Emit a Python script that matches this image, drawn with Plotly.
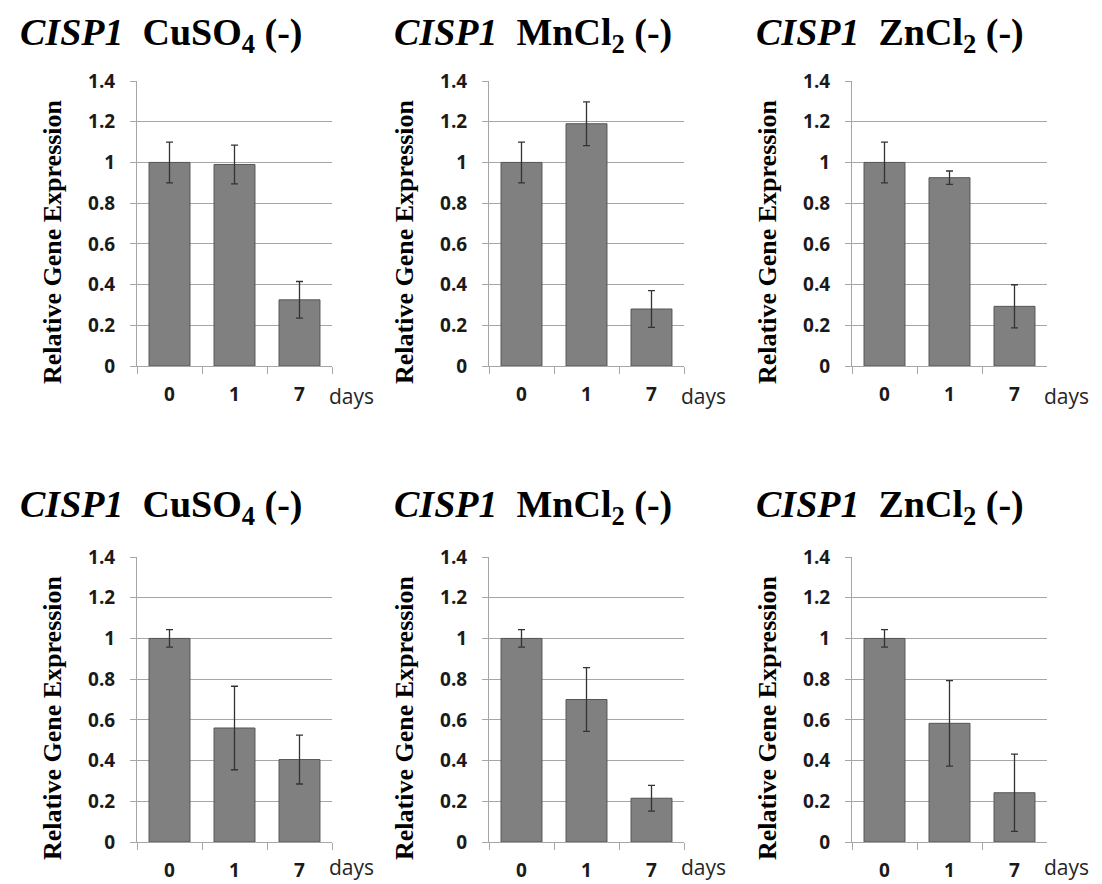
import plotly.graph_objects as go

days = ["0", "1", "7"]
y_ticks = [0, 0.2, 0.4, 0.6, 0.8, 1.0, 1.2, 1.4]
y_tick_labels = ["0", "0.2", "0.4", "0.6", "0.8", "1", "1.2", "1.4"]
y_title = "<b>Relative Gene Expression</b>"

titles = [
    "<b><i>CISP1</i></b>  <b>CuSO<sub>4</sub> (-)</b>",
    "<b><i>CISP1</i></b>  <b>MnCl<sub>2</sub> (-)</b>",
    "<b><i>CISP1</i></b>  <b>ZnCl<sub>2</sub> (-)</b>",
    "<b><i>CISP1</i></b>  <b>CuSO<sub>4</sub> (-)</b>",
    "<b><i>CISP1</i></b>  <b>MnCl<sub>2</sub> (-)</b>",
    "<b><i>CISP1</i></b>  <b>ZnCl<sub>2</sub> (-)</b>",
]

top_cu = [1.0, 0.99, 0.325]
top_cu_err = [0.10, 0.095, 0.09]
top_mn = [1.0, 1.19, 0.28]
top_mn_err = [0.10, 0.107, 0.09]
top_zn = [1.0, 0.925, 0.293]
top_zn_err = [0.10, 0.033, 0.106]
bot_cu = [1.0, 0.56, 0.405]
bot_cu_err = [0.043, 0.205, 0.12]
bot_mn = [1.0, 0.70, 0.215]
bot_mn_err = [0.043, 0.157, 0.063]
bot_zn = [1.0, 0.583, 0.242]
bot_zn_err = [0.043, 0.21, 0.19]

series = [(top_cu, top_cu_err), (top_mn, top_mn_err), (top_zn, top_zn_err),
          (bot_cu, bot_cu_err), (bot_mn, bot_mn_err), (bot_zn, bot_zn_err)]

W, H = 1102, 884
cols = [(137, 332), (489, 684), (852, 1047)]
rows = [(81, 366), (557, 842)]
title_centers = [161, 533, 890]
title_y = [35, 507]
ytitle_x = [52, 404, 767]
ytitle_y = [242, 718]
days_offset = [30, 25]

tick_font = dict(family="Open Sans", size=19, color="#1a1a1a", weight="bold")

fig = go.Figure()
for i, (vals, errs) in enumerate(series):
    r, c = divmod(i, 3)
    n = i + 1
    xa = "x" if n == 1 else f"x{n}"
    ya = "y" if n == 1 else f"y{n}"
    fig.add_trace(go.Bar(
        x=days, y=vals, xaxis=xa, yaxis=ya, width=0.63,
        marker=dict(color="#808080", line=dict(color="#555555", width=1)),
        error_y=dict(type="data", array=errs, visible=True, color="#333333",
                     thickness=1.3, width=3.5),
        showlegend=False,
    ))
    x0, x1 = cols[c]
    yt, yb = rows[r]
    xkey = "xaxis" if n == 1 else f"xaxis{n}"
    ykey = "yaxis" if n == 1 else f"yaxis{n}"
    fig.update_layout({
        xkey: dict(domain=[x0 / W, x1 / W], anchor=ya, type="category",
                   showline=True, linecolor="#a6a6a6", linewidth=1,
                   ticks="outside", tickson="boundaries", ticklen=7,
                   tickcolor="#a6a6a6", showgrid=False, automargin=False,
                   tickfont=tick_font, ticklabelstandoff=11),
        ykey: dict(domain=[1 - yb / H, 1 - yt / H], anchor=xa,
                   range=[0, 1.4], tickvals=y_ticks, ticktext=y_tick_labels,
                   showline=True, linecolor="#a6a6a6", linewidth=1,
                   ticks="outside", ticklen=6, tickcolor="#a6a6a6",
                   showgrid=True, gridcolor="#a6a6a6", gridwidth=1,
                   zeroline=False, automargin=False,
                   tickfont=tick_font, ticklabelstandoff=11),
    })
    fig.add_annotation(text=titles[i], xref="paper", yref="paper",
                       x=title_centers[c] / W, y=1 - title_y[r] / H,
                       xanchor="center", yanchor="middle", showarrow=False,
                       font=dict(family="Liberation Serif", size=38, color="#000000"))
    fig.add_annotation(text=y_title, xref="paper", yref="paper",
                       x=ytitle_x[c] / W, y=1 - ytitle_y[r] / H, textangle=-90,
                       xanchor="center", yanchor="middle", showarrow=False,
                       font=dict(family="Liberation Serif", size=26, color="#000000"))
    fig.add_annotation(text="days", xref="paper", yref="paper",
                       x=(x1 - 5) / W, y=1 - (yb + days_offset[r]) / H,
                       xanchor="left", yanchor="middle", showarrow=False,
                       font=dict(family="Open Sans", size=21, color="#262626"))

fig.update_layout(width=W, height=H, autosize=False,
                  margin=dict(l=0, r=0, t=0, b=0, autoexpand=False),
                  plot_bgcolor="white", paper_bgcolor="white", bargap=0.37)
fig.write_html("out.html", config={"responsive": False})
